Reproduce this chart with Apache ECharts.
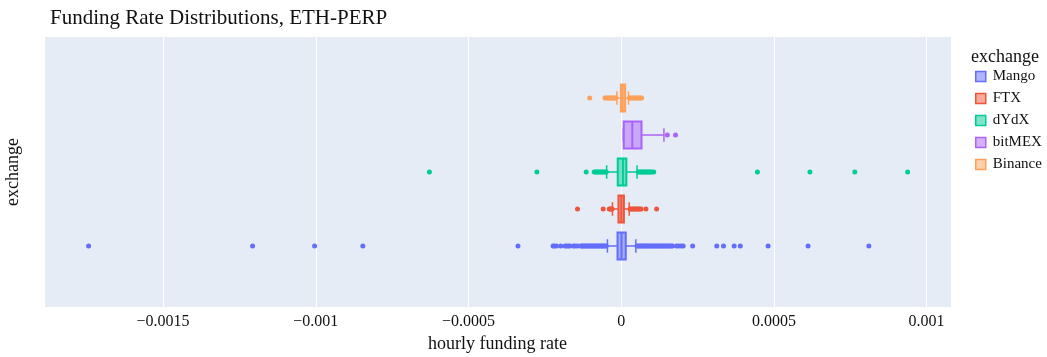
<!DOCTYPE html>
<html>
<head>
<meta charset="utf-8">
<script src="https://cdn.jsdelivr.net/npm/echarts@6.0.0/dist/echarts.min.js"></script>
<style>
  html, body { margin: 0; padding: 0; background: #fff; }
  #chart { width: 1047px; height: 357px; }
</style>
</head>
<body>
<div id="chart"></div>
<script>
// exchanges, bottom to top
const exchanges = ['Mango', 'FTX', 'dYdX', 'bitMEX', 'Binance'];
const colors = ['#636efa', '#EF553B', '#00cc96', '#ab63fa', '#FFA15A'];

// box stats: [lower fence, q1, median, q3, upper fence]
const mangoStats = [-0.000045, -0.000012, 0.000001, 0.000015, 0.000048];
const ftxStats = [-0.0000285, -0.0000089, 0.0000005, 0.0000089, 0.0000262];
const dydxStats = [-0.0000476, -0.0000113, 0.0000057, 0.000017, 0.000052];
const bitmexStats = [0.000007, 0.0000085, 0.0000364, 0.0000666, 0.00014];
const binanceStats = [-0.000014, -0.000001, 0.000005, 0.000013, 0.000024];

// outliers
const mangoOutliers = [
  -0.001744, -0.001207, -0.001004, -0.000846, -0.000338,
  -0.000223, -0.000219, -0.000212, -0.000198, -0.000184, -0.000179, -0.000173, -0.000168,
  -0.000157, -0.000151, -0.000143, -0.000132, -0.000128, -0.000125, -0.000121, -0.000117,
  -0.000112, -0.000109, -0.000104, -0.000101, -0.000097, -0.000092, -0.000089, -0.000085,
  -0.000081, -0.000076, -0.000073, -0.000069, -0.000064, -0.000061, -0.000057, -0.000053, -0.000049,
  0.000052, 0.000056, 0.000061, 0.000064, 0.000069, 0.000073, 0.000077, 0.000082, 0.000085,
  0.000089, 0.000094, 0.000098, 0.000102, 0.000106, 0.000111, 0.000115, 0.000119, 0.000124,
  0.000128, 0.000132, 0.000137, 0.000141, 0.000146, 0.000151, 0.000155, 0.000159, 0.000164, 0.000168,
  0.000181, 0.000188, 0.000196, 0.000203, 0.000234, 0.000313, 0.000335, 0.00037, 0.00039,
  0.000481, 0.000612, 0.000811
];
const ftxOutliers = [
  -0.000143, -0.000059, -0.000039, -0.000036, -0.000033, -0.00003,
  0.000029, 0.000033, 0.000037, 0.000041, 0.000045, 0.000049, 0.000053, 0.000057,
  0.000061, 0.000065, 0.000081, 0.000116
];
const dydxOutliers = [
  -0.000628, -0.000276, -0.0001145, -0.0000884, -0.0000845, -0.0000805, -0.0000765,
  -0.0000725, -0.0000685, -0.0000645, -0.0000605, -0.0000565, -0.0000525, -0.000049,
  0.000056, 0.00006, 0.000064, 0.000068, 0.000072, 0.000076, 0.00008, 0.000084, 0.000088,
  0.000092, 0.000096, 0.0001, 0.0001066,
  0.000446, 0.000618, 0.000765, 0.000938
];
const bitmexOutliers = [0.000151, 0.000178];
const binanceOutliers = [
  -0.000103, -0.000053, -0.000049, -0.000045, -0.000041, -0.000037, -0.000033,
  -0.000029, -0.000025, -0.000021, -0.000017,
  0.000027, 0.000031, 0.000035, 0.000039, 0.000043, 0.000047, 0.000051, 0.000055,
  0.000059, 0.000063, 0.000067
];

const allStats = [mangoStats, ftxStats, dydxStats, bitmexStats, binanceStats];
const allOutliers = [mangoOutliers, ftxOutliers, dydxOutliers, bitmexOutliers, binanceOutliers];

const serif = '"Liberation Serif", "DejaVu Serif", serif';
const textColor = '#111111';

function hexAlpha(hex, a) {
  const n = parseInt(hex.slice(1), 16);
  return 'rgba(' + ((n >> 16) & 255) + ',' + ((n >> 8) & 255) + ',' + (n & 255) + ',' + a + ')';
}

function boxSeries(name, stats, pos, color) {
  return {
    name: name,
    type: 'custom',
    itemStyle: { color: color },
    data: [stats.concat([pos])],
    encode: { x: [0, 1, 2, 3, 4], y: 5 },
    renderItem: function (params, api) {
      const y = api.value(5);
      const half = api.size([0, 1])[1] * 0.365;
      const cap = half / 2;
      const xs = [0, 1, 2, 3, 4].map(i => api.coord([api.value(i), y])[0]);
      const cy = api.coord([0, y])[1];
      const line = (x1, y1, x2, y2, w) => ({
        type: 'line',
        shape: { x1: x1, y1: y1, x2: x2, y2: y2 },
        style: { stroke: color, lineWidth: w }
      });
      return {
        type: 'group',
        children: [
          line(xs[0], cy, xs[1], cy, 1.5),
          line(xs[3], cy, xs[4], cy, 1.5),
          line(xs[0], cy - cap, xs[0], cy + cap, 1.5),
          line(xs[4], cy - cap, xs[4], cy + cap, 1.5),
          {
            type: 'rect',
            shape: { x: xs[1], y: cy - half, width: xs[3] - xs[1], height: half * 2 },
            style: { fill: hexAlpha(color, 0.5), stroke: color, lineWidth: 2 }
          },
          line(xs[2], cy - half, xs[2], cy + half, 2)
        ]
      };
    }
  };
}

const series = [];
exchanges.forEach((name, i) => {
  series.push(boxSeries(name, allStats[i], i, colors[i]));
  series.push({
    name: name,
    type: 'scatter',
    symbolSize: 5,
    itemStyle: { color: colors[i], opacity: 1 },
    data: allOutliers[i].map(v => [v, i])
  });
});

const chart = echarts.init(document.getElementById('chart'));
chart.setOption({
  animation: false,
  backgroundColor: '#ffffff',
  title: [
    {
      text: 'Funding Rate Distributions, ETH-PERP',
      left: 45, top: 3,
      textStyle: { fontFamily: serif, fontSize: 21, fontWeight: 'normal', color: textColor }
    },
    {
      text: 'exchange',
      left: 966, top: 43,
      textStyle: { fontFamily: serif, fontSize: 18, fontWeight: 'normal', color: textColor }
    }
  ],
  legend: {
    orient: 'vertical',
    left: 970, top: 64,
    icon: 'rect',
    itemWidth: 10, itemHeight: 10,
    itemGap: 7,
    textStyle: { fontFamily: serif, fontSize: 15, color: textColor, padding: [0, 0, 0, 2] },
    data: exchanges.map((name, i) => ({
      name: name,
      itemStyle: { color: hexAlpha(colors[i], 0.5), borderColor: colors[i], borderWidth: 1.5 }
    }))
  },
  grid: {
    left: 44, right: 96, top: 37, bottom: 50,
    outerBoundsMode: 'none',
    show: true, backgroundColor: '#E5ECF6', borderWidth: 0
  },
  xAxis: {
    type: 'value',
    min: -0.00189,
    max: 0.00108,
    name: 'hourly funding rate',
    nameLocation: 'middle',
    nameGap: 27,
    nameTextStyle: { fontFamily: serif, fontSize: 18, color: textColor },
    axisLine: { show: false },
    axisTick: { show: false },
    axisLabel: {
      fontFamily: serif, fontSize: 16, color: textColor, margin: 7,
      showMinLabel: false, showMaxLabel: false,
      formatter: v => (v < 0 ? '\u2212' : '') + Math.abs(v)
    },
    splitLine: { show: true, lineStyle: { color: '#ffffff', width: 1 } }
  },
  yAxis: {
    type: 'value',
    min: -1.65,
    max: 5.65,
    name: 'exchange',
    nameLocation: 'middle',
    nameRotate: 90,
    nameGap: 22,
    nameTextStyle: { fontFamily: serif, fontSize: 18, color: textColor },
    axisLine: { show: false },
    axisTick: { show: false },
    axisLabel: { show: false },
    splitLine: { show: false }
  },
  series: series
});
</script>
</body>
</html>
